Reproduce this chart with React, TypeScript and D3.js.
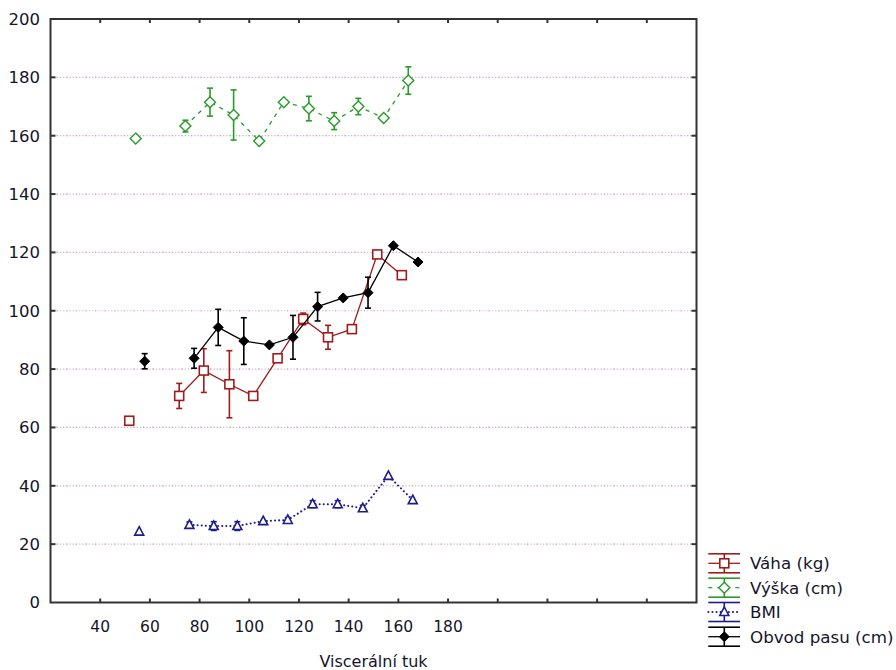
import React from "react";
import * as d3 from "d3";

// Visceral fat groups: x = group mean of visceral fat, y = mean of each measure,
// err = half-length of the error bar around the mean (0 = no visible bar).
const VAHA_X = [51.7, 71.8, 81.7, 92.0, 101.6, 111.4, 121.7, 131.7, 141.3, 151.5, 161.4];
const VAHA_Y = [62.3, 70.8, 79.5, 74.8, 70.8, 83.7, 97.2, 90.9, 93.7, 119.3, 112.2];
const VAHA_ERR = [0.8, 4.3, 7.5, 11.5, 0, 0.8, 2, 4.1, 0, 0, 0];

const VYSKA_X = [54.3, 74.3, 84.2, 93.7, 104.0, 113.9, 124.0, 134.2, 143.9, 154.1, 164.0];
const VYSKA_Y = [159.0, 163.3, 171.5, 167.1, 158.2, 171.5, 169.3, 165.0, 170.0, 166.1, 178.9];
const VYSKA_ERR = [0, 2, 4.8, 8.6, 0, 0, 4.2, 2.9, 2.8, 0, 4.7];

const BMI_X = [55.7, 75.9, 85.7, 95.2, 105.6, 115.5, 125.5, 135.6, 145.7, 156.0, 165.8];
const BMI_Y = [24.3, 26.6, 26.2, 26.2, 27.9, 28.3, 33.7, 33.7, 32.3, 43.4, 35.1];
const BMI_ERR = [0, 1, 1.5, 1.5, 0, 0.8, 1.2, 1.2, 1, 0, 0];

const OBVOD_X = [57.9, 77.8, 87.5, 97.8, 108.1, 117.6, 127.5, 137.8, 147.8, 158.0, 167.9];
const OBVOD_Y = [82.7, 83.7, 94.3, 89.6, 88.3, 90.9, 101.4, 104.4, 106.2, 122.3, 116.7];
const OBVOD_ERR = [2.6, 3.4, 6.2, 8, 0, 7.5, 4.9, 0, 5.3, 0, 0];

// whether a point is joined to the previous one by the series line
const LINKED = [false, false, true, true, true, true, true, true, true, true, true];

const SERIES_NAMES = ["Váha (kg)", "Výška (cm)", "BMI", "Obvod pasu (cm)"];

const Y_TICKS = [0, 20, 40, 60, 80, 100, 120, 140, 160, 180, 200];
const X_TICKS = [40, 60, 80, 100, 120, 140, 160, 180, 200, 220, 240, 260];
const X_LABELS = [40, 60, 80, 100, 120, 140, 160, 180];
const X_TITLE = "Viscerální tuk";

type Marker = "square" | "diamond" | "triangle" | "filledDiamond";

interface Series {
  name: string;
  xs: number[];
  ys: number[];
  err: number[];
  color: string;
  dash: string | undefined;
  cap: "butt" | "round";
  marker: Marker;
}

const SERIES: Series[] = [
  { name: SERIES_NAMES[0], xs: VAHA_X, ys: VAHA_Y, err: VAHA_ERR, color: "#a01c1c", dash: undefined, cap: "butt", marker: "square" },
  { name: SERIES_NAMES[1], xs: VYSKA_X, ys: VYSKA_Y, err: VYSKA_ERR, color: "#2a9a2a", dash: "4 5", cap: "butt", marker: "diamond" },
  { name: SERIES_NAMES[2], xs: BMI_X, ys: BMI_Y, err: BMI_ERR, color: "#1c1c8c", dash: "0.1 4", cap: "round", marker: "triangle" },
  { name: SERIES_NAMES[3], xs: OBVOD_X, ys: OBVOD_Y, err: OBVOD_ERR, color: "#000000", dash: undefined, cap: "butt", marker: "filledDiamond" },
];

const W = 896;
const H = 670;
const LEFT = 50.5;
const RIGHT = 696.5;
const TOP = 19;
const BOTTOM = 602.5;
const FONT = "'DejaVu Sans', Verdana, sans-serif";
const TEXT = "#15152a";
const FRAME = "#333333";

const x = d3.scaleLinear().domain([20, 280]).range([LEFT, RIGHT]);
const y = d3.scaleLinear().domain([0, 200]).range([BOTTOM, TOP]);

function MarkerShape({ m, cx, cy, color }: { m: Marker; cx: number; cy: number; color: string }) {
  if (m === "square") {
    return <rect x={cx - 4.5} y={cy - 4.5} width={9} height={9} fill="#fff" stroke={color} strokeWidth={1.6} />;
  }
  if (m === "diamond") {
    const r = 5.5;
    return <path d={`M${cx},${cy - r}L${cx + r},${cy}L${cx},${cy + r}L${cx - r},${cy}Z`} fill="#fff" stroke={color} strokeWidth={1.4} />;
  }
  if (m === "filledDiamond") {
    const r = 5;
    return <path d={`M${cx},${cy - r}L${cx + r},${cy}L${cx},${cy + r}L${cx - r},${cy}Z`} fill={color} stroke={color} strokeWidth={1} />;
  }
  return (
    <path d={`M${cx},${cy - 5}L${cx + 4.5},${cy + 3.5}L${cx - 4.5},${cy + 3.5}Z`} fill="#fff" stroke={color} strokeWidth={1.6} />
  );
}

export default function App() {
  const line = d3
    .line<[number, number]>()
    .x((d) => x(d[0]))
    .y((d) => y(d[1]));

  // split each series into connected runs
  const runs = (s: Series) => {
    const out: [number, number][][] = [];
    s.xs.forEach((xv, i) => {
      const pt: [number, number] = [xv, s.ys[i]];
      if (!LINKED[i] || out.length === 0) out.push([pt]);
      else out[out.length - 1].push(pt);
    });
    return out.filter((r) => r.length > 1);
  };

  const legendRows = [563.3, 587.7, 612, 636.7];
  const lgX0 = 708.3;
  const lgX1 = 740;
  const lgCx = 724.3;

  return (
    <svg width={W} height={H} style={{ position: "absolute", left: 0, top: 0, background: "#fff" }} fontFamily={FONT}>
      <rect x={0} y={0} width={W} height={H} fill="#fff" />
      {/* dotted gridlines */}
      {Y_TICKS.filter((t) => t > 0 && t < 200).map((t) => (
        <g key={`g${t}`}>
          <line x1={LEFT + 3} x2={RIGHT - 3} y1={y(t)} y2={y(t)} stroke="#dba6dc" strokeWidth={1.2} strokeDasharray="1.2 2" />
          <line x1={LEFT + 3} x2={RIGHT - 3} y1={y(t)} y2={y(t)} stroke="#9fbf9f" strokeWidth={1.2} strokeDasharray="1.2 8.4" strokeDashoffset={-3} />
        </g>
      ))}

      {/* frame */}
      <rect x={LEFT} y={TOP} width={RIGHT - LEFT} height={BOTTOM - TOP} fill="none" stroke={FRAME} strokeWidth={2} />

      {/* inward ticks */}
      {Y_TICKS.filter((t) => t > 0 && t < 200).map((t) => (
        <g key={`yt${t}`} stroke={FRAME} strokeWidth={2}>
          <line x1={LEFT} x2={LEFT + 5} y1={y(t)} y2={y(t)} />
          <line x1={RIGHT - 5} x2={RIGHT} y1={y(t)} y2={y(t)} />
        </g>
      ))}
      {X_TICKS.map((t) => (
        <g key={`xt${t}`} stroke={FRAME} strokeWidth={2}>
          <line x1={x(t)} x2={x(t)} y1={BOTTOM} y2={BOTTOM - 4} />
          <line x1={x(t)} x2={x(t)} y1={TOP} y2={TOP + 4} />
        </g>
      ))}

      {/* tick labels */}
      {Y_TICKS.map((t) => (
        <text key={`yl${t}`} x={40} y={y(t)} dy="0.36em" textAnchor="end" fontSize={16.5} fill={TEXT}>
          {t}
        </text>
      ))}
      {X_LABELS.map((t) => (
        <text key={`xl${t}`} x={x(t)} y={632} textAnchor="middle" fontSize={15.5} fill={TEXT}>
          {t}
        </text>
      ))}
      <text x={(LEFT + RIGHT) / 2} y={667} textAnchor="middle" fontSize={16} fill={TEXT}>
        {X_TITLE}
      </text>

      {/* series */}
      {SERIES.map((s) => (
        <g key={s.name}>
          {runs(s).map((r, i) => (
            <path
              key={i}
              d={line(r) || ""}
              fill="none"
              stroke={s.color}
              strokeWidth={s.marker === "triangle" ? 2 : 1.3}
              strokeDasharray={s.dash}
              strokeLinecap={s.cap}
            />
          ))}
          {s.xs.map((xv, i) =>
            s.err[i] > 0 ? (
              <g key={`e${i}`} stroke={s.color} strokeWidth={1.6}>
                <line x1={x(xv)} x2={x(xv)} y1={y(s.ys[i] - s.err[i])} y2={y(s.ys[i] + s.err[i])} />
                <line x1={x(xv) - 3} x2={x(xv) + 3} y1={y(s.ys[i] - s.err[i])} y2={y(s.ys[i] - s.err[i])} />
                <line x1={x(xv) - 3} x2={x(xv) + 3} y1={y(s.ys[i] + s.err[i])} y2={y(s.ys[i] + s.err[i])} />
              </g>
            ) : null
          )}
          {s.xs.map((xv, i) => (
            <MarkerShape key={`m${i}`} m={s.marker} cx={x(xv)} cy={y(s.ys[i])} color={s.color} />
          ))}
        </g>
      ))}

      {/* legend */}
      {SERIES.map((s, i) => {
        const cy = legendRows[i];
        return (
          <g key={`lg${i}`}>
            <g stroke={s.color} strokeWidth={1.6}>
              <line x1={lgX0} x2={lgX1} y1={cy - 9.5} y2={cy - 9.5} />
              <line x1={lgX0} x2={lgX1} y1={cy + 9.5} y2={cy + 9.5} />
              <line x1={lgCx} x2={lgCx} y1={cy - 9.5} y2={cy + 9.5} />
            </g>
            <line
              x1={lgX0}
              x2={lgX1}
              y1={cy}
              y2={cy}
              stroke={s.color}
              strokeWidth={s.marker === "triangle" ? 2 : 1.3}
              strokeDasharray={s.dash}
              strokeLinecap={s.cap}
            />
            <MarkerShape m={s.marker} cx={lgCx} cy={cy} color={s.color} />
            <text x={750} y={cy} dy="0.36em" fontSize={16.7} fill={TEXT}>
              {s.name}
            </text>
          </g>
        );
      })}
    </svg>
  );
}
